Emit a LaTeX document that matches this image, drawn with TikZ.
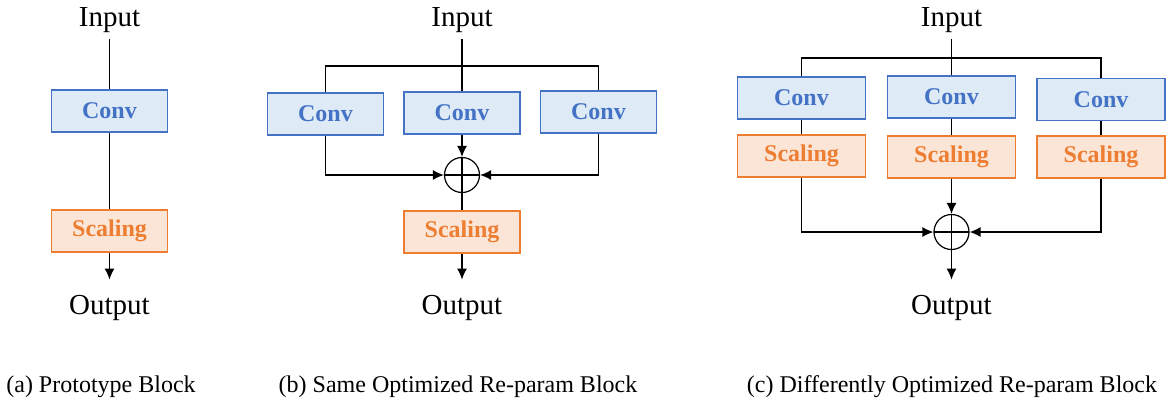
\documentclass[tikz,border=0pt]{standalone}
\usepackage{fontspec}
\setmainfont{Liberation Serif}
\usepackage{tikz}
\usetikzlibrary{shapes, arrows.meta, positioning}
\definecolor{convblue}{HTML}{4472C4}
\definecolor{convfill}{HTML}{DEEBF7}
\definecolor{scalorange}{HTML}{ED7D31}
\definecolor{scalfill}{HTML}{FBE5D6}
\tikzstyle{conv} = [draw=convblue, fill=convfill, line width=1.4pt, rectangle, minimum width=116pt, minimum height=42pt, inner sep=0pt, text=convblue, font=\fontsize{24}{28}\selectfont\bfseries]
\tikzstyle{convwide} = [conv, minimum width=128pt]
\tikzstyle{scal} = [draw=scalorange, fill=scalfill, line width=1.4pt, rectangle, minimum width=116pt, minimum height=42pt, inner sep=0pt, text=scalorange, font=\fontsize{24}{28}\selectfont\bfseries]
\tikzstyle{scalwide} = [scal, minimum width=128pt]
\tikzstyle{io} = [inner sep=6pt, font=\fontsize{29}{32}\selectfont]
\tikzstyle{caption} = [inner sep=0pt, font=\fontsize{24}{28}\selectfont]
\tikzstyle{sumnode} = [draw, circle, line width=1.2pt, minimum size=35pt, inner sep=0pt,
  path picture={\draw[line width=1.2pt] (path picture bounding box.north) -- (path picture bounding box.south)
  (path picture bounding box.west) -- (path picture bounding box.east);}]
\tikzstyle{wire} = [line width=1.3pt]
\tikzstyle{flow} = [wire, -{Latex[length=11pt,width=10pt]}]

\begin{document}
\begin{tikzpicture}[x=1pt, y=-1pt]
	\useasboundingbox (0,0) rectangle (1167,402);
	% (a) prototype
	\node[io] (inA) at (109.5,20) {Input};
	\node[conv] (convA) at (109.5,111) {Conv};
	\node[scal] (scalA) at (109.5,231) {Scaling};
	\node[io] (outA) at (109.5,307.5) {Output};
	\draw[wire] (inA) -- (convA);
	\draw[wire] (convA) -- (scalA);
	\draw[flow, shorten >=9pt] (scalA) -- (outA);
	\node[caption] (capA) at (101,387) {(a) Prototype Block};

	% (b) same optimized
	\node[io] (inB) at (462,20) {Input};
	\coordinate (splitB) at (462,66);
	\node[conv] (convB1) at (325.5,114) {Conv};
	\node[conv] (convB2) at (462,113) {Conv};
	\node[conv] (convB3) at (598.5,112) {Conv};
	\node[sumnode] (sumB) at (462,175) {};
	\node[scal] (scalB) at (462,232) {Scaling};
	\node[io] (outB) at (462,307.5) {Output};
	\draw[wire] (inB) -- (convB2);
	\draw[wire] (convB1.north) |- (splitB) -| (convB3.north);
	\draw[flow] (convB1.south) |- (sumB.west);
	\draw[flow] (convB2) -- (sumB);
	\draw[flow] (convB3.south) |- (sumB.east);
	\draw[wire] (sumB) -- (scalB);
	\draw[flow, shorten >=9pt] (scalB) -- (outB);
	\node[caption] (capB) at (458,387) {(b) Same Optimized Re-param Block};

	% (c) differently optimized
	\node[io] (inC) at (951.5,20) {Input};
	\coordinate (splitC) at (951.5,58);
	\node[convwide] (convC1) at (801.5,98) {Conv};
	\node[convwide] (convC2) at (951.5,97) {Conv};
	\node[convwide] (convC3) at (1101,99.5) {Conv};
	\node[scalwide] (scalC1) at (801.5,156) {Scaling};
	\node[scalwide] (scalC2) at (951.5,157) {Scaling};
	\node[scalwide] (scalC3) at (1101,157) {Scaling};
	\node[sumnode] (sumC) at (951.5,232) {};
	\node[io] (outC) at (951.5,307.5) {Output};
	\draw[wire] (inC) -- (convC2);
	\draw[wire] (convC1.north) |- (splitC) -| (convC3.north);
	\foreach \i in {1,2,3}
		\draw[wire] (convC\i) -- (scalC\i);
	\draw[flow] (scalC1.south) |- (sumC.west);
	\draw[flow] (scalC2) -- (sumC);
	\draw[flow] (scalC3.south) |- (sumC.east);
	\draw[flow, shorten >=9pt] (sumC) -- (outC);
	\node[caption] (capC) at (952,387) {(c) Differently Optimized Re-param Block};
\end{tikzpicture}
\end{document}
